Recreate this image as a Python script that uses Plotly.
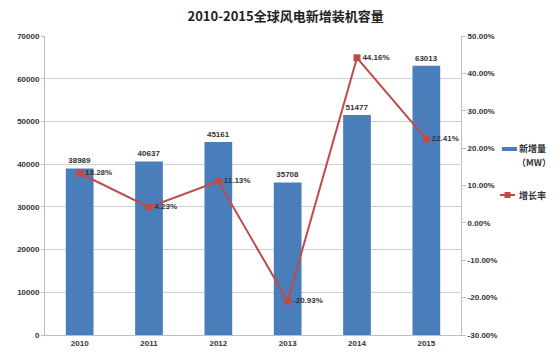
import plotly.graph_objects as go

years = ["2010", "2011", "2012", "2013", "2014", "2015"]
capacity_mw = [38989, 40637, 45161, 35708, 51477, 63013]
growth_pct = [13.28, 4.23, 11.13, -20.93, 44.16, 22.41]

left_ticks = [0, 10000, 20000, 30000, 40000, 50000, 60000, 70000]
right_ticks = [-30, -20, -10, 0, 10, 20, 30, 40, 50]

bar_name = "新增量"
bar_unit = "（MW）"
line_name = "增长率"

font_fam = "Liberation Sans, Arial, sans-serif"
cjk_fam = "Noto Sans CJK SC, sans-serif"
txt_col = "#333333"
bar_col = "#4A7EBB"
line_col = "#BE4B48"

fig = go.Figure()
fig.add_trace(go.Bar(
    x=years, y=capacity_mw, name=bar_name + bar_unit,
    marker=dict(color=bar_col, line=dict(width=0)),
    text=[str(v) for v in capacity_mw], textposition="outside",
    textfont=dict(size=8, color=txt_col, family=font_fam, weight="bold"),
    cliponaxis=False, showlegend=False,
))
fig.add_trace(go.Scatter(
    x=years, y=growth_pct, name=line_name, yaxis="y2",
    mode="lines+markers+text",
    line=dict(color=line_col, width=2),
    marker=dict(symbol="square", size=7, color=line_col),
    text=[f"{v:.2f}%" for v in growth_pct], textposition="middle right",
    textfont=dict(size=8, color=txt_col, family=font_fam, weight="bold"),
    cliponaxis=False, showlegend=False,
))

# custom legend (paper coords)
def px_x(px):
    return (px - 45) / 416
def px_y(py):
    return (335 - py) / 299

shapes = [
    dict(type="rect", xref="paper", yref="paper",
         x0=px_x(502), x1=px_x(517), y0=px_y(151), y1=px_y(147),
         fillcolor=bar_col, line=dict(width=0)),
    dict(type="line", xref="paper", yref="paper",
         x0=px_x(500), x1=px_x(515), y0=px_y(195), y1=px_y(195),
         line=dict(color=line_col, width=2)),
    dict(type="rect", xref="paper", yref="paper",
         x0=px_x(504.5), x1=px_x(510.5), y0=px_y(198), y1=px_y(192),
         fillcolor=line_col, line=dict(width=0)),
]
legend_font = dict(size=9, color=txt_col, family=cjk_fam, weight="bold")
annotations = [
    dict(text=bar_name, xref="paper", yref="paper", x=px_x(517), y=px_y(148),
         xanchor="left", yanchor="middle", showarrow=False, font=legend_font),
    dict(text=bar_unit, xref="paper", yref="paper", x=px_x(515), y=px_y(162),
         xanchor="left", yanchor="middle", showarrow=False, font=legend_font),
    dict(text=line_name, xref="paper", yref="paper", x=px_x(517), y=px_y(195),
         xanchor="left", yanchor="middle", showarrow=False, font=legend_font),
]

tick_font = dict(size=8, color=txt_col, family=font_fam, weight="bold")

fig.update_layout(
    width=560, height=359,
    margin=dict(l=45, r=99, t=36, b=24, autoexpand=False),
    paper_bgcolor="white", plot_bgcolor="white",
    bargap=0.6,
    title=dict(text="<b>2010-2015全球风电新增装机容量</b>", x=0.51, xanchor="center",
               y=0.955, yanchor="middle",
               font=dict(size=13, color="#222222", family=cjk_fam)),
    font=dict(family=font_fam, size=8, color=txt_col),
    xaxis=dict(showline=True, linecolor="#BFBFBF", linewidth=1, ticks="",
               tickfont=tick_font, showgrid=False),
    yaxis=dict(range=[0, 70000], tickvals=left_ticks, ticktext=[str(t) for t in left_ticks],
               showgrid=True, gridcolor="#D0D0D0", gridwidth=1,
               showline=True, linecolor="#BFBFBF", linewidth=1,
               ticks="outside", ticklen=3, tickcolor="#BFBFBF",
               tickfont=tick_font, zeroline=False),
    yaxis2=dict(range=[-30, 50], overlaying="y", side="right",
                tickvals=right_ticks, ticktext=[f"{t:.2f}%" for t in right_ticks],
                showgrid=False, showline=True, linecolor="#BFBFBF", linewidth=1,
                ticks="outside", ticklen=4, tickcolor="#BFBFBF",
                tickfont=tick_font, zeroline=False),
    shapes=shapes,
    annotations=annotations,
    showlegend=False,
)

fig.write_html("out.html", config={"displayModeBar": False},
               post_script="document.body.style.margin='0';")
